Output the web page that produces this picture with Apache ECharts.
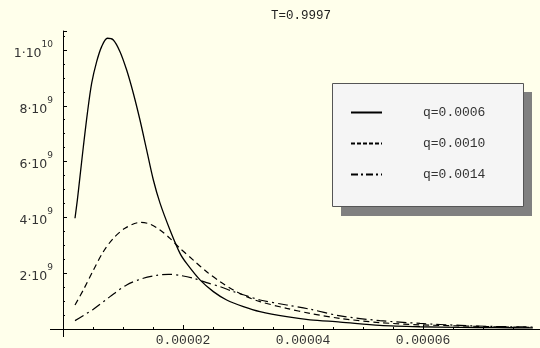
<!DOCTYPE html>
<html>
<head>
<meta charset="utf-8">
<script src="https://cdn.jsdelivr.net/npm/echarts@6/dist/echarts.min.js"></script>
<style>
 html, body { margin: 0; padding: 0; background: #ffffeb; }
 #chart { width: 540px; height: 348px; }
</style>
</head>
<body>
<div id="chart"></div>
<script>
 var chart = echarts.init(document.getElementById('chart'));

 var names = ['q=0.0006', 'q=0.0010', 'q=0.0014'];

 // x in units of 1e-5, y in units of 1e9
 var q0006 = [
     [0.200, 3.97], [0.239, 4.62], [0.283, 5.46], [0.339, 6.53], [0.406, 7.73],
     [0.478, 8.81], [0.561, 9.58], [0.644, 10.12], [0.739, 10.42], [0.839, 10.36],
     [0.950, 9.94], [1.061, 9.28], [1.172, 8.45], [1.283, 7.49], [1.394, 6.42],
     [1.506, 5.34], [1.617, 4.51], [1.783, 3.55], [1.950, 2.71], [2.060, 2.35],
     [2.283, 1.76], [2.506, 1.34], [2.728, 1.04], [3.006, 0.80], [3.283, 0.62],
     [3.728, 0.44], [4.117, 0.33], [4.62, 0.25], [5.28, 0.13], [5.95, 0.08],
     [6.62, 0.06], [7.20, 0.05], [7.83, 0.04]
 ];
 var q0010 = [
     [0.200, 0.86], [0.339, 1.40], [0.506, 2.11], [0.672, 2.77], [0.839, 3.25],
     [1.033, 3.61], [1.283, 3.82], [1.450, 3.76], [1.617, 3.55], [1.783, 3.25],
     [1.950, 2.89], [2.172, 2.47], [2.394, 2.05], [2.617, 1.70], [2.839, 1.40],
     [3.060, 1.16], [3.283, 0.98], [3.728, 0.74], [4.117, 0.56], [4.62, 0.38],
     [5.28, 0.23], [5.95, 0.15], [6.62, 0.11], [7.20, 0.08], [7.83, 0.06]
 ];
 var q0014 = [
     [0.200, 0.30], [0.506, 0.71], [0.783, 1.16], [1.061, 1.58], [1.339, 1.82],
     [1.561, 1.92], [1.756, 1.96], [1.950, 1.92], [2.172, 1.82], [2.394, 1.66],
     [2.617, 1.52], [2.839, 1.34], [3.060, 1.19], [3.283, 1.04], [3.728, 0.86],
     [4.117, 0.71], [4.62, 0.47], [5.28, 0.30], [5.95, 0.20], [6.62, 0.13],
     [7.20, 0.09], [7.83, 0.07]
 ];

 function scale(arr) {
     return arr.map(function (p) { return [p[0] * 1e-5, p[1] * 1e9]; });
 }

 var mono = '"Liberation Mono", "DejaVu Sans Mono", monospace';
 var sans = '"DejaVu Sans", sans-serif';

 var lineBase = {
     type: 'line',
     showSymbol: false,
     symbol: 'none',
     smooth: 0.3,
     silent: true
 };

 var option = {
     backgroundColor: '#ffffeb',
     animation: false,
     title: {
         text: 'T=0.9997',
         left: 301,
         top: 9,
         padding: 0,
         textAlign: 'center',
         textStyle: {
             fontFamily: mono,
             fontWeight: 'normal',
             fontSize: 12.5,
             color: '#222'
         }
     },
     grid: {
         left: 63,
         right: 0,
         top: 31,
         bottom: 19
     },
     xAxis: {
         type: 'value',
         min: 0,
         max: 7.95e-5,
         interval: 2e-5,
         axisLine: { lineStyle: { color: '#000', width: 1 } },
         axisTick: { inside: true, length: 4, lineStyle: { color: '#000' } },
         minorTick: { show: true, splitNumber: 4, length: 2, lineStyle: { color: '#000' } },
         splitLine: { show: false },
         axisLabel: {
             showMinLabel: false,
             showMaxLabel: false,
             margin: 5,
             fontFamily: mono,
             fontSize: 13,
             color: '#333',
             formatter: function (v) { return v.toFixed(5); }
         }
     },
     yAxis: {
         type: 'value',
         min: 0,
         max: 1.068e10,
         interval: 2e9,
         axisLine: { show: true, lineStyle: { color: '#000', width: 1 } },
         axisTick: { show: true, inside: true, length: 4, lineStyle: { color: '#000' } },
         minorTick: { show: true, splitNumber: 4, length: 2, lineStyle: { color: '#000' } },
         splitLine: { show: false },
         axisLabel: {
             showMinLabel: false,
             showMaxLabel: false,
             margin: 10,
             formatter: function (v) {
                 if (v >= 1e10) return '{b|1·10}{s|10}';
                 return '{b|' + Math.round(v / 1e9) + '·10}{s|9}';
             },
             rich: {
                 b: { fontFamily: sans, fontSize: 12.5, color: '#333', lineHeight: 20, verticalAlign: 'bottom' },
                 s: { fontFamily: sans, fontSize: 9, color: '#333', lineHeight: 20, verticalAlign: 'top' }
             }
         }
     },
     legend: {
         data: [
             { name: names[0] },
             { name: names[1], lineStyle: { type: [4, 2] } },
             { name: names[2], lineStyle: { type: [7, 3, 2, 3] } }
         ],
         orient: 'vertical',
         left: 350,
         top: 106,
         z: 20,
         padding: 0,
         itemWidth: 31,
         itemHeight: 14,
         itemGap: 18,
         itemStyle: { opacity: 0 },
         textStyle: {
             fontFamily: mono,
             fontSize: 13,
             color: '#333',
             padding: [0, 0, 0, 36]
         }
     },
     graphic: [
         { type: 'rect', z: 1, shape: { x: 341, y: 92, width: 191, height: 124 }, style: { fill: '#808080' } },
         { type: 'rect', z: 2, shape: { x: 332.5, y: 83.5, width: 191, height: 123 }, style: { fill: '#f5f5f5', stroke: '#555', lineWidth: 1 } },
         { type: 'line', z: 2, shape: { x1: 50, y1: 329.5, x2: 63, y2: 329.5 }, style: { stroke: '#000', lineWidth: 1 } },
         { type: 'line', z: 2, shape: { x1: 63.5, y1: 329, x2: 63.5, y2: 337 }, style: { stroke: '#000', lineWidth: 1 } }
     ],
     series: [
         Object.assign({}, lineBase, {
             name: names[0],
             data: scale(q0006),
             lineStyle: { color: '#000', width: 1.3, type: 'solid' },
             itemStyle: { color: '#000' }
         }),
         Object.assign({}, lineBase, {
             name: names[1],
             data: scale(q0010),
             lineStyle: { color: '#000', width: 1.2, type: [6, 4] },
             itemStyle: { color: '#000' }
         }),
         Object.assign({}, lineBase, {
             name: names[2],
             data: scale(q0014),
             lineStyle: { color: '#000', width: 1.2, type: [10, 4, 2, 4] },
             itemStyle: { color: '#000' }
         })
     ]
 };

 chart.setOption(option);
</script>
</body>
</html>
